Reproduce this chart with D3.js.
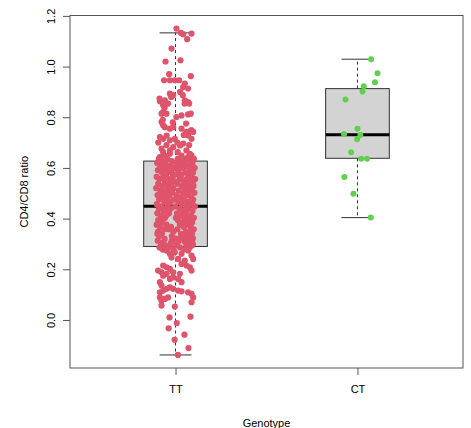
<!DOCTYPE html>
<html>
<head>
<meta charset="utf-8">
<script src="https://cdn.jsdelivr.net/npm/d3@7"></script>
<style>
  body { margin: 0; background: #fff; }
  svg { display: block; font-family: "Liberation Sans", Arial, sans-serif; }
</style>
</head>
<body>
<div id="chart"></div>
<script>
// groups and axis ticks
const genotypes = ['TT', 'CT'];
const yTicks = [0, 0.2, 0.4, 0.6, 0.8, 1.0, 1.2];

// box statistics: [whisker low, Q1, median, Q3, whisker high]
const boxTT = [-0.138, 0.290, 0.449, 0.627, 1.133];
const boxCT = [0.404, 0.638, 0.731, 0.913, 1.029];

// CT points: jitter offset (x units) and ratio
const ctJitter = [0.075, 0.110, 0.096, 0.035, 0.028, -0.066, 0.000, -0.074, 0.016, -0.002, -0.035, 0.020, 0.053, -0.072, -0.022, 0.073];
const ctRatio  = [1.029, 0.974, 0.938, 0.922, 0.902, 0.870, 0.755, 0.734, 0.730, 0.713, 0.662, 0.636, 0.636, 0.564, 0.498, 0.404];

// TT points: [jitter offset, ratio]
const ttPoints = [
  [0.005, 1.150], [0.029, 1.133], [0.042, 1.128], [0.088, 1.130], [0.064, 1.108],
  [-0.022, 1.071], [-0.055, 1.020], [0.027, 1.025], [-0.035, 0.970], [0.084, 0.962],
  [-0.063, 0.946], [-0.031, 0.946], [-0.004, 0.946], [0.020, 0.946], [0.051, 0.933],
  [0.042, 0.919], [0.069, 0.913], [0.025, 0.900], [-0.031, 0.893], [-0.013, 0.887],
  [-0.059, 0.867], [-0.086, 0.863], [0.051, 0.867], [0.069, 0.860], [-0.068, 0.847],
  [-0.041, 0.854], [-0.068, 0.821], [-0.077, 0.814], [0.033, 0.807], [0.069, 0.811],
  [0.084, 0.814], [0.005, 0.801], [-0.077, 0.781], [-0.068, 0.768], [-0.059, 0.761],
  [-0.031, 0.755], [-0.013, 0.761], [0.033, 0.755], [0.088, 0.748], [0.060, 0.742],
  [-0.068, 0.715], [-0.086, 0.722], [-0.049, 0.728], [-0.031, 0.709], [-0.004, 0.715],
  [0.069, 0.728], [0.088, 0.715], [0.097, 0.742], [0.042, 0.696], [0.025, 0.689],
  [-0.077, 0.676], [-0.068, 0.662], [-0.031, 0.669], [-0.013, 0.682], [0.060, 0.669],
  [0.079, 0.656], [-0.086, 0.643], [-0.059, 0.649], [-0.031, 0.656], [0.033, 0.649],
  [0.069, 0.643], [0.088, 0.649], [-0.088, 0.874], [-0.024, 0.880], [0.040, 0.887],
  [0.050, 0.854], [0.075, 0.854], [-0.060, 0.838], [-0.050, 0.814], [-0.070, 0.790],
  [-0.015, 0.780], [0.058, 0.775], [0.085, 0.748], [0.010, 0.700], [-0.050, 0.690],
  [0.075, 0.690], [-0.095, 0.700], [0.045, 0.730], [0.012, 0.662],
  // inside the box
  [-0.092, 0.636], [-0.045, 0.636], [0.012, 0.636], [0.058, 0.636], [0.101, 0.636],
  [-0.070, 0.627], [-0.020, 0.627], [0.035, 0.627], [0.080, 0.627],
  [-0.101, 0.619], [-0.055, 0.619], [0.004, 0.619], [0.047, 0.619], [0.093, 0.619],
  [-0.083, 0.608], [-0.030, 0.608], [0.022, 0.608], [0.068, 0.608],
  [-0.062, 0.600], [-0.008, 0.600], [0.041, 0.600], [0.105, 0.600],
  [-0.097, 0.591], [-0.040, 0.591], [0.015, 0.591], [0.077, 0.591],
  [-0.075, 0.582], [-0.022, 0.582], [0.055, 0.582], [0.096, 0.582],
  [-0.052, 0.574], [0.003, 0.574], [0.032, 0.574], [0.070, 0.574],
  [-0.104, 0.565], [-0.068, 0.565], [-0.015, 0.565], [0.088, 0.565],
  [-0.088, 0.556], [-0.035, 0.556], [0.024, 0.556], [0.061, 0.556], [0.108, 0.556],
  [-0.058, 0.547], [-0.005, 0.547], [0.045, 0.547], [0.083, 0.547],
  [-0.095, 0.538], [-0.025, 0.538], [0.010, 0.538], [0.066, 0.538],
  [-0.072, 0.529], [-0.042, 0.529], [0.036, 0.529], [0.099, 0.529],
  [-0.106, 0.520], [-0.012, 0.520], [0.052, 0.520], [0.079, 0.520],
  [-0.080, 0.511], [-0.048, 0.511], [0.018, 0.511], [0.090, 0.511],
  [-0.064, 0.502], [-0.020, 0.502], [0.040, 0.502], [0.072, 0.502], [0.104, 0.502],
  [-0.099, 0.493], [-0.033, 0.493], [0.006, 0.493], [0.058, 0.493],
  [-0.076, 0.484], [-0.050, 0.484], [0.028, 0.484], [0.086, 0.484],
  [-0.090, 0.475], [-0.010, 0.475], [0.047, 0.475], [0.097, 0.475],
  [-0.061, 0.466], [-0.028, 0.466], [0.015, 0.466], [0.066, 0.466],
  [-0.103, 0.457], [-0.044, 0.457], [0.035, 0.457], [0.081, 0.457],
  [-0.078, 0.448], [-0.001, 0.448], [0.055, 0.448], [0.106, 0.448],
  [-0.092, 0.439], [-0.055, 0.439], [0.022, 0.439], [0.070, 0.439],
  [-0.067, 0.430], [0.042, 0.430], [0.093, 0.430],
  [-0.100, 0.421], [-0.036, 0.421], [0.008, 0.421], [0.060, 0.421],
  [-0.082, 0.412], [-0.050, 0.412], [0.030, 0.412], [0.085, 0.412],
  [-0.058, 0.403], [0.002, 0.403], [0.049, 0.403], [0.101, 0.403],
  [-0.095, 0.394], [0.013, 0.394], [0.072, 0.394],
  [-0.073, 0.385], [0.038, 0.385], [0.091, 0.385],
  [-0.104, 0.376], [-0.050, 0.376], [0.024, 0.376], [0.063, 0.376],
  [-0.085, 0.367], [-0.025, 0.367], [0.046, 0.367], [0.083, 0.367],
  [-0.062, 0.358], [-0.035, 0.358], [0.010, 0.358], [0.100, 0.358],
  [-0.096, 0.349], [-0.012, 0.349], [0.058, 0.349], [0.077, 0.349],
  [-0.075, 0.340], [0.030, 0.340], [0.090, 0.340],
  [-0.090, 0.331], [-0.020, 0.331], [0.040, 0.331], [0.068, 0.331],
  [-0.004, 0.322], [0.022, 0.322], [0.096, 0.322],
  [-0.098, 0.313], [-0.020, 0.313], [0.018, 0.313], [0.080, 0.313],
  [-0.080, 0.304], [-0.025, 0.304], [0.010, 0.304], [0.085, 0.304],
  [-0.058, 0.295], [0.005, 0.295], [0.060, 0.295], [0.092, 0.295],
  [-0.088, 0.286], [-0.030, 0.286], [0.025, 0.286], [0.078, 0.286],
  [-0.070, 0.278], [-0.010, 0.278], [0.045, 0.278],
  // extra fill in the dense middle
  [-0.082, 0.600], [0.028, 0.562], [-0.040, 0.545], [0.095, 0.540], [-0.085, 0.500],
  [0.018, 0.480], [-0.040, 0.470], [0.095, 0.455], [-0.025, 0.440], [0.040, 0.418],
  [-0.080, 0.395], [0.055, 0.390], [-0.045, 0.360], [0.060, 0.330], [-0.060, 0.320],
  [0.095, 0.300], [-0.050, 0.290], [0.050, 0.310], [-0.100, 0.340], [0.075, 0.410],
  [-0.015, 0.600], [0.080, 0.610], [-0.060, 0.580], [0.050, 0.505], [-0.030, 0.515],
  // below the box
  [-0.049, 0.274], [-0.031, 0.261], [-0.004, 0.267], [0.033, 0.261], [0.069, 0.274],
  [0.088, 0.254], [0.097, 0.241], [-0.022, 0.247], [0.014, 0.241], [0.051, 0.234],
  [0.033, 0.221], [-0.068, 0.215], [-0.096, 0.195], [-0.077, 0.188], [-0.049, 0.208],
  [-0.031, 0.202], [-0.013, 0.188], [0.060, 0.215], [0.079, 0.208], [0.088, 0.195],
  [0.024, 0.182], [0.014, 0.162], [0.033, 0.149], [-0.068, 0.175], [-0.049, 0.182],
  [-0.031, 0.162], [-0.013, 0.168], [-0.086, 0.149], [-0.077, 0.136], [-0.049, 0.123],
  [-0.031, 0.129], [-0.013, 0.123], [-0.086, 0.109], [-0.068, 0.116], [0.014, 0.116],
  [0.033, 0.113], [0.069, 0.109], [0.088, 0.103], [0.097, 0.089], [-0.086, 0.089],
  [-0.077, 0.076], [-0.059, 0.083], [-0.041, 0.089], [-0.077, 0.057], [0.088, 0.070],
  [-0.004, 0.053], [-0.033, 0.010], [0.082, 0.013], [0.007, -0.012], [-0.038, -0.033],
  [0.049, -0.058], [-0.005, -0.078], [0.071, -0.111], [0.013, -0.138]
];

const width = 471, height = 428;
const margin = { top: 15.5, right: 8, bottom: 60, left: 70 };

const svg = d3.select('#chart').append('svg')
  .attr('width', width)
  .attr('height', height);

// R style scales: y range padded 4% around the data
const allY = ttPoints.map(d => d[1]).concat(ctRatio);
const [yMin, yMax] = d3.extent(allY);
const pad = (yMax - yMin) * 0.04;

const x = d3.scaleLinear()
  .domain([0.42, 2.58])
  .range([margin.left, width - margin.right]);

const y = d3.scaleLinear()
  .domain([yMin - pad, yMax + pad])
  .range([height - margin.bottom, margin.top]);

const boxW = 0.35;
const colors = { TT: '#DF536B', CT: '#61D04F' };

// boxes
const boxes = [
  { g: 'TT', pos: 1, s: boxTT },
  { g: 'CT', pos: 2, s: boxCT }
];

boxes.forEach(b => {
  const [lo, q1, med, q3, hi] = b.s;
  const g = svg.append('g');
  const cx = x(b.pos);
  const xl = x(b.pos - boxW / 2), xr = x(b.pos + boxW / 2);
  const sl = x(b.pos - boxW / 4), sr = x(b.pos + boxW / 4);

  // dashed whiskers
  g.append('line')
    .attr('x1', cx).attr('x2', cx)
    .attr('y1', y(q3)).attr('y2', y(hi))
    .attr('stroke', '#333').attr('stroke-dasharray', '3,3');
  g.append('line')
    .attr('x1', cx).attr('x2', cx)
    .attr('y1', y(q1)).attr('y2', y(lo))
    .attr('stroke', '#333').attr('stroke-dasharray', '3,3');

  // staples
  [lo, hi].forEach(v => {
    g.append('line')
      .attr('x1', sl).attr('x2', sr)
      .attr('y1', y(v)).attr('y2', y(v))
      .attr('stroke', '#333');
  });

  g.append('rect')
    .attr('x', xl).attr('y', y(q3))
    .attr('width', xr - xl).attr('height', y(q1) - y(q3))
    .attr('fill', '#D3D3D3')
    .attr('stroke', '#333');

  g.append('line')
    .attr('x1', xl).attr('x2', xr)
    .attr('y1', y(med)).attr('y2', y(med))
    .attr('stroke', '#000').attr('stroke-width', 3);
});

// jittered points
svg.append('g').selectAll('circle.tt')
  .data(ttPoints)
  .enter().append('circle')
  .attr('class', 'tt')
  .attr('cx', d => x(1 + d[0]))
  .attr('cy', d => y(d[1]))
  .attr('r', 3.1)
  .attr('fill', colors.TT);

svg.append('g').selectAll('circle.ct')
  .data(ctRatio)
  .enter().append('circle')
  .attr('class', 'ct')
  .attr('cx', (d, i) => x(2 + ctJitter[i]))
  .attr('cy', d => y(d))
  .attr('r', 3)
  .attr('fill', colors.CT);

// frame
svg.append('rect')
  .attr('x', margin.left).attr('y', margin.top)
  .attr('width', width - margin.right - margin.left)
  .attr('height', height - margin.bottom - margin.top)
  .attr('fill', 'none')
  .attr('stroke', '#555');

// y axis
const yAxis = svg.append('g')
  .attr('transform', `translate(${margin.left},0)`)
  .call(d3.axisLeft(y).tickValues(yTicks).tickSize(7).tickSizeOuter(0).tickFormat(d3.format('.1f')));
yAxis.select('.domain').remove();
yAxis.selectAll('.tick line').attr('stroke', '#555');
yAxis.selectAll('.tick text')
  .attr('x', null).attr('dy', null)
  .attr('text-anchor', 'middle')
  .attr('transform', 'translate(-15,0) rotate(-90)')
  .attr('font-size', 11)
  .attr('font-family', '"Liberation Sans", Arial, sans-serif')
  .attr('fill', '#000');

// x axis
const xAxis = svg.append('g')
  .attr('transform', `translate(0,${height - margin.bottom})`)
  .call(d3.axisBottom(x).tickValues([1, 2]).tickSize(7).tickSizeOuter(0).tickFormat(d => genotypes[d - 1]));
xAxis.select('.domain').remove();
xAxis.selectAll('.tick line').attr('stroke', '#555');
xAxis.selectAll('.tick text')
  .attr('y', 24.5).attr('dy', null)
  .attr('font-size', 11)
  .attr('font-family', '"Liberation Sans", Arial, sans-serif')
  .attr('fill', '#000');

// axis titles
svg.append('text')
  .attr('transform', `translate(28,${(margin.top + height - margin.bottom) / 2}) rotate(-90)`)
  .attr('text-anchor', 'middle')
  .attr('font-size', 11)
  .text('CD4/CD8 ratio');

svg.append('text')
  .attr('x', (margin.left + width - margin.right) / 2)
  .attr('y', 426.5)
  .attr('text-anchor', 'middle')
  .attr('font-size', 11)
  .text('Genotype');
</script>
</body>
</html>
